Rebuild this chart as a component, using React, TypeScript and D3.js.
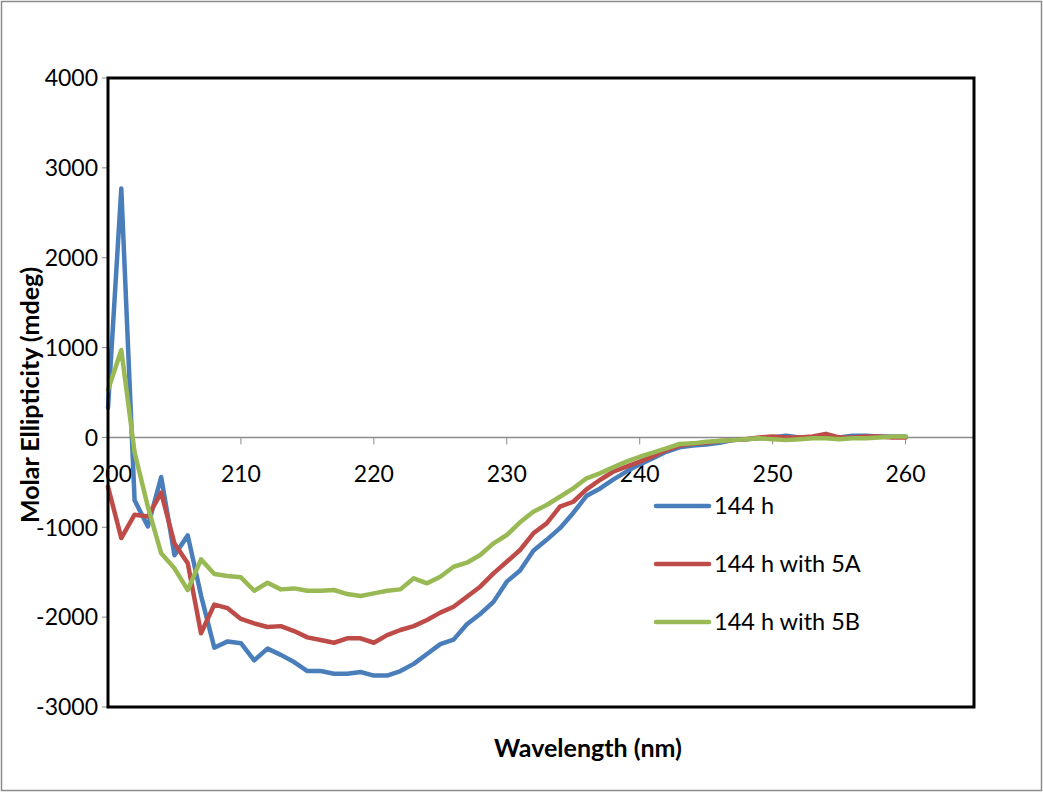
import React, { useEffect, useRef } from "react";
import * as d3 from "d3";

const wavelengths: number[] = d3.range(200, 261);

const series144h: number[] = [
  330, 2770, -700, -990, -440, -1310, -1090, -1760, -2340, -2270,
  -2290, -2480, -2350, -2420, -2500, -2600, -2600, -2630, -2630, -2610,
  -2650, -2650, -2600, -2520, -2410, -2300, -2250, -2080, -1965, -1830,
  -1605, -1480, -1260, -1140, -1010, -840, -650, -570, -470, -380,
  -300, -230, -160, -110, -90, -80, -60, -30, -20, -10,
  0, 20, 0, 0, 10, 0, 20, 20, 10, 10, 10,
];

const series144h5A: number[] = [
  -550, -1120, -860, -880, -615, -1180, -1400, -2180, -1860, -1900,
  -2020, -2070, -2110, -2100, -2155, -2225, -2255, -2285, -2236, -2236,
  -2285, -2200, -2143, -2100, -2032, -1950, -1884, -1773, -1661, -1513,
  -1383, -1253, -1067, -956, -771, -716, -578, -474, -382, -326,
  -270, -210, -140, -90, -70, -60, -40, -30, -20, 0,
  10, 0, 0, 10, 40, 0, 0, 10, 10, 0, 0,
];

const series144h5B: number[] = [
  527, 973, -165, -771, -1290, -1457, -1698, -1357, -1520, -1543,
  -1557, -1706, -1617, -1691, -1680, -1706, -1706, -1698, -1743, -1765,
  -1735, -1706, -1691, -1568, -1624, -1550, -1439, -1394, -1309, -1179,
  -1086, -945, -827, -752, -660, -567, -455, -400, -333, -270,
  -215, -170, -121, -73, -66, -48, -40, -30, -20, -10,
  -20, -30, -20, -10, -10, -20, -10, -10, 0, 10, 10,
];

const seriesNames: string[] = ["144 h", "144 h with 5A", "144 h with 5B"];
const seriesColors: string[] = ["#4a7ebb", "#be4b48", "#98b954"];
const yTicks: number[] = [4000, 3000, 2000, 1000, 0, -1000, -2000, -3000];
const xTicks: number[] = [200, 210, 220, 230, 240, 250, 260];

const W = 1043;
const H = 792;
const FONT = "Lato, 'Open Sans', 'Liberation Sans', sans-serif";

export default function App() {
  const ref = useRef<SVGSVGElement | null>(null);

  useEffect(() => {
    const svg = d3.select(ref.current);
    svg.selectAll("*").remove();

    const left = 108;
    const right = 974;
    const top = 78;
    const bottom = 707;

    const x = d3.scaleLinear().domain([200, 265.15]).range([left, right]);
    const y = d3.scaleLinear().domain([-3000, 4000]).range([bottom, top]);

    // outer chart border
    svg
      .append("rect")
      .attr("x", 1.5)
      .attr("y", 1.5)
      .attr("width", W - 3)
      .attr("height", H - 3)
      .attr("fill", "#fff")
      .attr("stroke", "#8c8c8c")
      .attr("stroke-width", 1.5);

    // y axis tick marks and labels
    const yAxis = svg.append("g");
    yTicks.forEach((t) => {
      yAxis
        .append("line")
        .attr("x1", left - 6)
        .attr("x2", left)
        .attr("y1", y(t))
        .attr("y2", y(t))
        .attr("stroke", "#8c8c8c")
        .attr("stroke-width", 1);
      yAxis
        .append("text")
        .attr("x", left - 10)
        .attr("y", y(t))
        .attr("dy", "0.36em")
        .attr("text-anchor", "end")
        .attr("font-family", FONT)
        .attr("font-size", 23)
        .attr("fill", "#000")
        .text(String(t));
    });

    // horizontal axis through zero
    svg
      .append("line")
      .attr("x1", left)
      .attr("x2", right)
      .attr("y1", y(0))
      .attr("y2", y(0))
      .attr("stroke", "#8c8c8c")
      .attr("stroke-width", 1.5);

    const xAxis = svg.append("g");
    xTicks.forEach((t) => {
      xAxis
        .append("line")
        .attr("x1", x(t))
        .attr("x2", x(t))
        .attr("y1", y(0))
        .attr("y2", y(0) + 7)
        .attr("stroke", "#8c8c8c")
        .attr("stroke-width", 1);
      xAxis
        .append("text")
        .attr("x", t === 200 ? x(t) + 4 : x(t))
        .attr("y", y(0) + 45)
        .attr("text-anchor", "middle")
        .attr("font-family", FONT)
        .attr("font-size", 23)
        .attr("fill", "#000")
        .text(String(t));
    });

    // data lines
    const line = d3
      .line<[number, number]>()
      .x((d) => x(d[0]))
      .y((d) => y(d[1]));

    const allSeries = [series144h, series144h5A, series144h5B];
    allSeries.forEach((vals, i) => {
      const pts: [number, number][] = wavelengths.map((w, k) => [w, vals[k]]);
      svg
        .append("path")
        .attr("d", line(pts) as string)
        .attr("fill", "none")
        .attr("stroke", seriesColors[i])
        .attr("stroke-width", 4.5)
        .attr("stroke-linejoin", "round")
        .attr("stroke-linecap", "round");
    });

    // plot frame
    svg
      .append("rect")
      .attr("x", left)
      .attr("y", top)
      .attr("width", right - left)
      .attr("height", bottom - top)
      .attr("fill", "none")
      .attr("stroke", "#000")
      .attr("stroke-width", 3);

    // legend
    const legend = svg.append("g");
    const legendY = [506, 564, 622];
    seriesNames.forEach((name, i) => {
      legend
        .append("line")
        .attr("x1", 656)
        .attr("x2", 709)
        .attr("y1", legendY[i])
        .attr("y2", legendY[i])
        .attr("stroke", seriesColors[i])
        .attr("stroke-width", 4.5)
        .attr("stroke-linecap", "round");
      legend
        .append("text")
        .attr("x", 714)
        .attr("y", legendY[i])
        .attr("dy", "0.36em")
        .attr("font-family", FONT)
        .attr("font-size", 23.5)
        .attr("fill", "#000")
        .text(name);
    });

    // axis titles
    svg
      .append("text")
      .attr("x", 588)
      .attr("y", 757)
      .attr("text-anchor", "middle")
      .attr("font-family", FONT)
      .attr("font-weight", "bold")
      .attr("font-size", 25)
      .attr("fill", "#000")
      .text("Wavelength (nm)");

    svg
      .append("text")
      .attr("transform", `translate(39, 395) rotate(-90)`)
      .attr("text-anchor", "middle")
      .attr("font-family", FONT)
      .attr("font-weight", "bold")
      .attr("font-size", 25)
      .attr("fill", "#000")
      .text("Molar Ellipticity (mdeg)");
  }, []);

  return (
    <svg
      ref={ref}
      width={W}
      height={H}
      style={{ position: "absolute", left: 0, top: 0, background: "#fff" }}
    />
  );
}
